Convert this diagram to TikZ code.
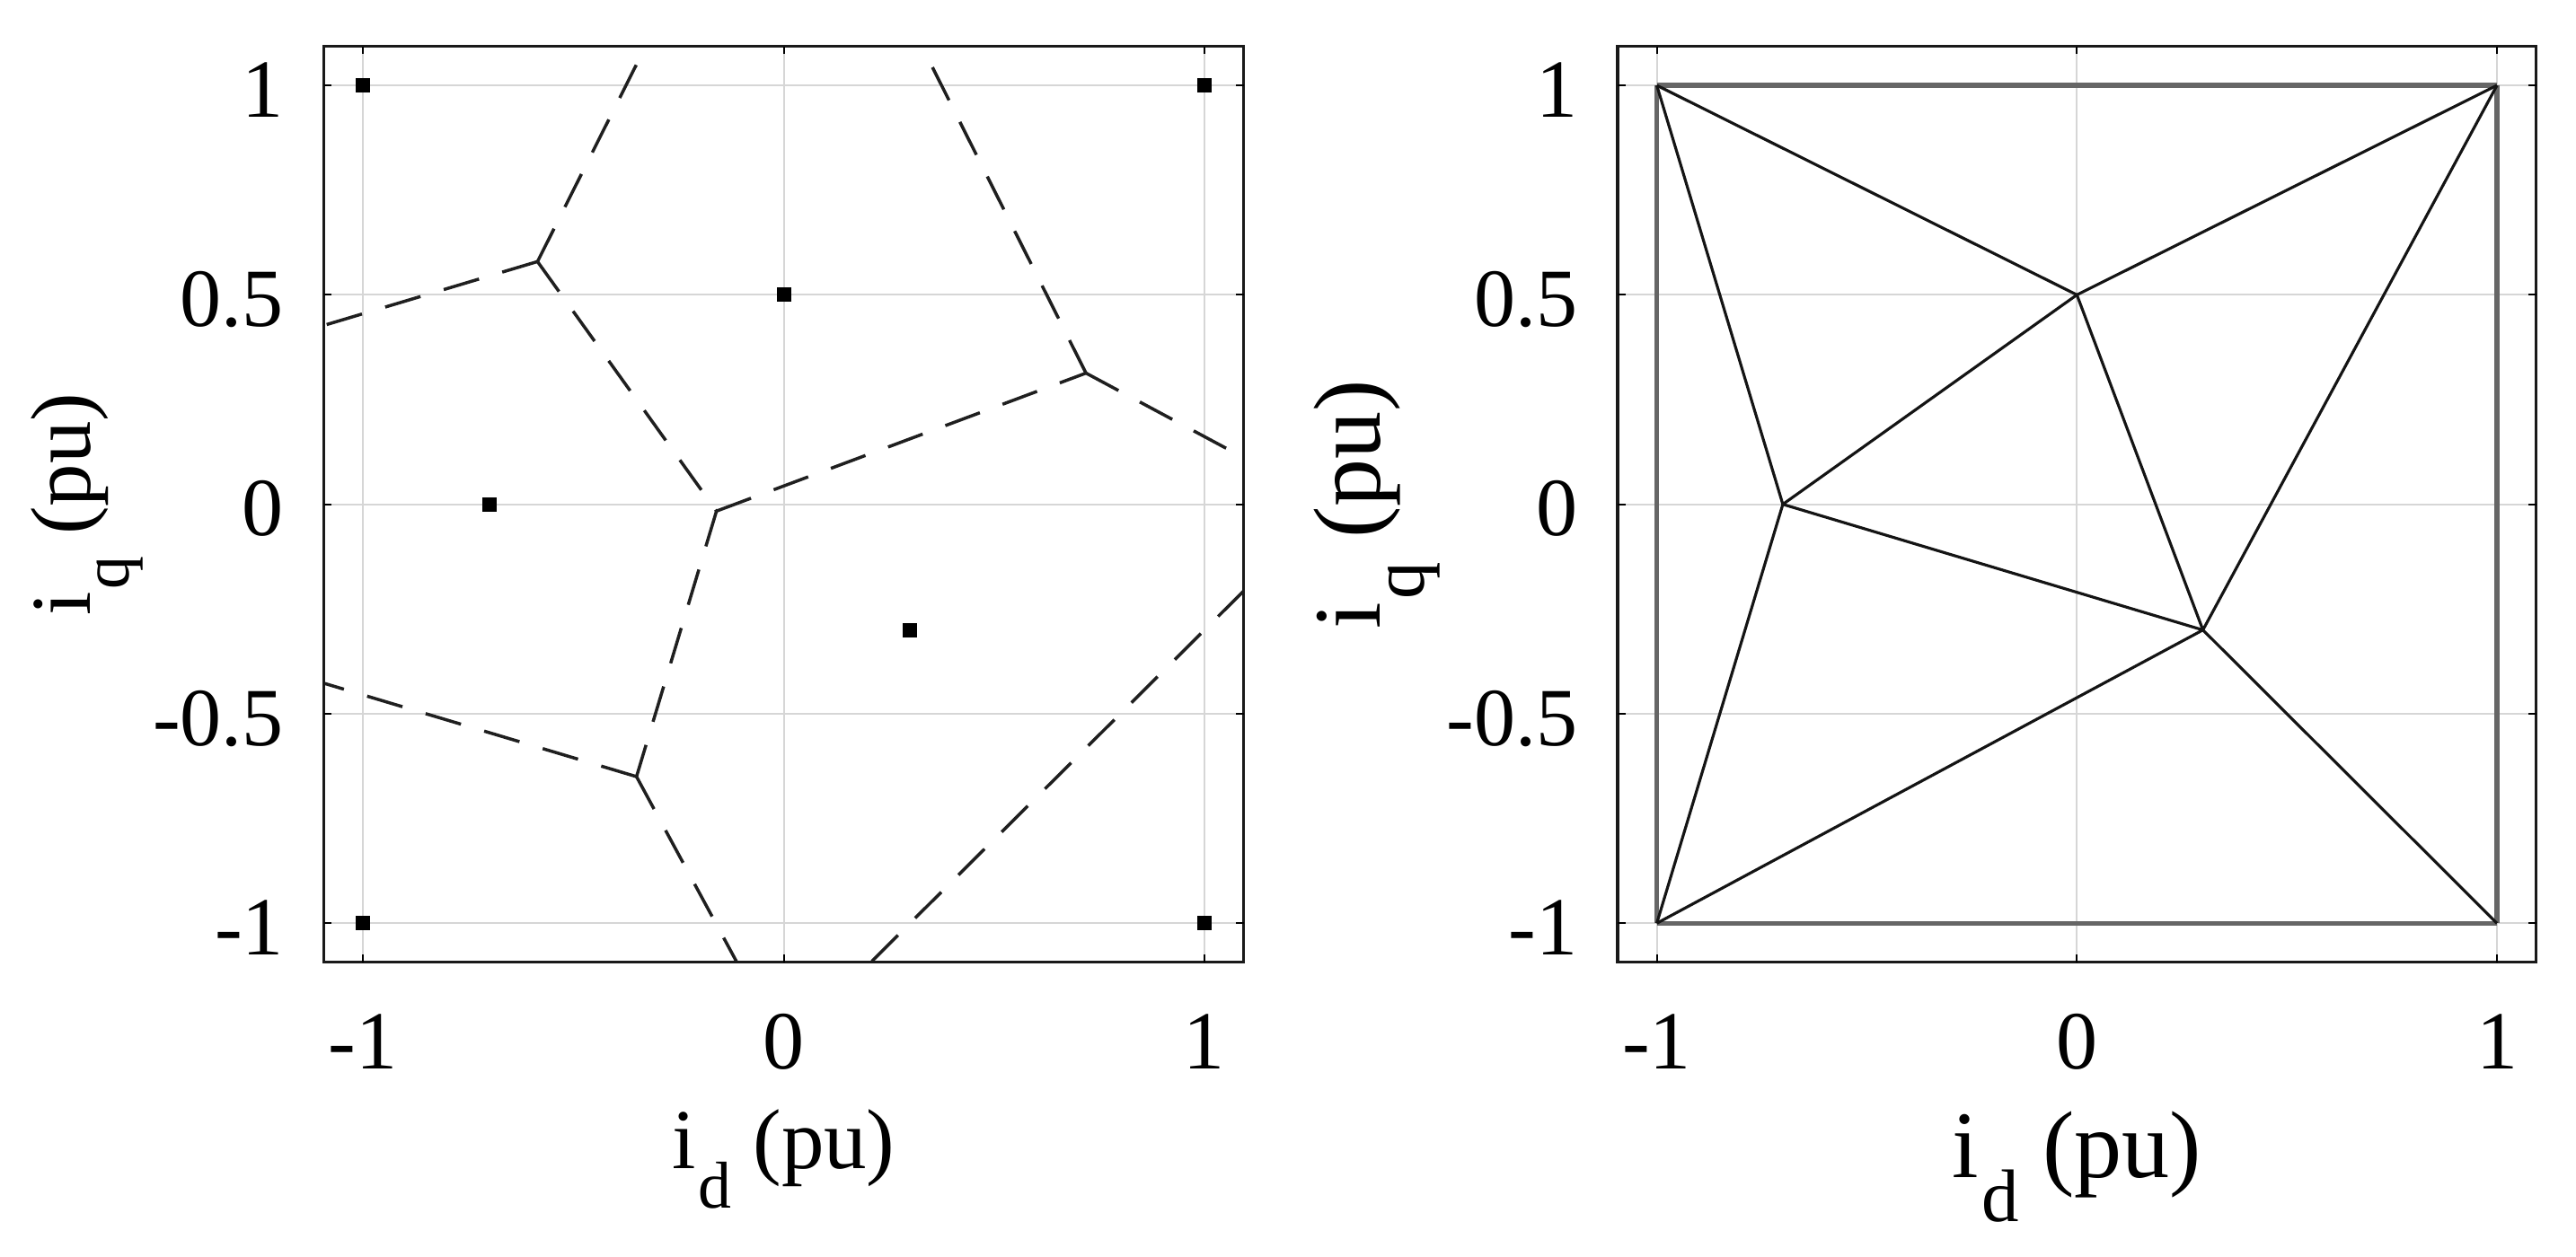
\documentclass[tikz,border=0pt]{standalone}
\usepackage{fontspec}
\setmainfont{Liberation Serif}
\newcommand{\axislabel}[3]{{\fontsize{#1}{#1}\selectfont i\kern0.03em\raisebox{-0.46em}{\fontsize{#2}{#2}\selectfont #3}\ (pu)}}
\begin{document}
\begin{tikzpicture}[
  gridline/.style={draw=black!16, line width=0.55pt},
  framebox/.style={draw=black!90, line width=1.0pt},
  tickmark/.style={draw=black, line width=0.6pt},
  vedge/.style={draw=black!88, line width=1.0pt, dash pattern=on 0.41cm off 0.27cm},
  dedge/.style={draw=black!92, line width=0.9pt},
  hulledge/.style={draw=black!60, line width=1.5pt},
  site/.style={rectangle, fill=black, draw=none, minimum size=0.16cm, inner sep=0pt},
  ticklab/.style={inner sep=0pt, font=\fontsize{26.2}{30}\selectfont},
  axlab/.style={inner sep=0pt, anchor=base},
]
\useasboundingbox (0,0) rectangle (28.68,14);
\def\fr{1.093}

% ================= LEFT PLOT (Voronoi) =================
\begin{scope}[shift={(8.726cm,8.383cm)}, x=4.684cm, y=4.666cm]
  \foreach \gx in {-1,0,1} \draw[gridline] (\gx,-\fr) -- (\gx,\fr);
  \foreach \gy in {-1,-0.5,0,0.5,1} \draw[gridline] (-\fr,\gy) -- (\fr,\gy);
  % sites
  \coordinate (L-A) at (-1,1);
  \coordinate (L-B) at (1,1);
  \coordinate (L-C) at (0,0.5);
  \coordinate (L-D) at (-0.7,0);
  \coordinate (L-E) at (0.3,-0.3);
  \coordinate (L-F) at (-1,-1);
  \coordinate (L-G) at (1,-1);
  % Voronoi vertices
  \coordinate (L-v1) at (-0.5853,0.5794);
  \coordinate (L-v2) at (0,1.75);
  \coordinate (L-v3) at (0.7184,0.3132);
  \coordinate (L-v4) at (-0.1599,-0.0162);
  \coordinate (L-v5) at (-2.5167,0);
  \coordinate (L-v6) at (-0.35,-0.65);
  \coordinate (L-v7) at (1.3,0);
  \coordinate (L-v8) at (0,-1.3);
  \begin{scope}
    \clip (-\fr,-\fr) rectangle (\fr,\fr);
    \draw[vedge] (L-v1) -- (L-v2);
    \draw[vedge] (L-v1) -- (L-v5);
    \draw[vedge] (L-v1) -- (L-v4);
    \draw[vedge] (L-v4) -- (L-v3);
    \draw[vedge] (L-v3) -- (L-v2);
    \draw[vedge] (L-v3) -- (L-v7);
    \draw[vedge] (L-v4) -- (L-v6);
    \draw[vedge] (L-v6) -- (L-v5);
    \draw[vedge] (L-v6) -- (L-v8);
    \draw[vedge] (L-v7) -- (L-v8);
  \end{scope}
  \foreach \p in {A,B,C,D,E,F,G} \node[site] (Ls\p) at (L-\p) {};
  \draw[framebox] (-\fr,-\fr) rectangle (\fr,\fr);
  \foreach \gx in {-1,0,1} {
    \draw[tickmark] (\gx,-\fr) -- ++(0,0.018);
    \draw[tickmark] (\gx,\fr) -- ++(0,-0.018);
  }
  \foreach \gy in {-1,-0.5,0,0.5,1} {
    \draw[tickmark] (-\fr,\gy) -- ++(0.018,0);
    \draw[tickmark] (\fr,\gy) -- ++(-0.018,0);
  }
  \foreach \gx/\t [count=\k] in {-1/-1,0/0,1/1}
    \node[ticklab, anchor=base] (Lxt\k) at (\gx,-1.3466) {\t};
  \foreach \gy/\t [count=\k] in {-1/-1,-0.5/-0.5,0/0,0.5/0.5,1/1}
    \node[ticklab, anchor=east] (Lyt\k) at (-1.187,\gy-0.011) {\t};
\end{scope}

% ================= RIGHT PLOT (Delaunay) =================
\begin{scope}[shift={(23.123cm,8.383cm)}, x=4.677cm, y=4.666cm]
  \foreach \gx in {-1,0,1} \draw[gridline] (\gx,-\fr) -- (\gx,\fr);
  \foreach \gy in {-1,-0.5,0,0.5,1} \draw[gridline] (-\fr,\gy) -- (\fr,\gy);
  \coordinate (R-A) at (-1,1);
  \coordinate (R-B) at (1,1);
  \coordinate (R-C) at (0,0.5);
  \coordinate (R-D) at (-0.7,0);
  \coordinate (R-E) at (0.3,-0.3);
  \coordinate (R-F) at (-1,-1);
  \coordinate (R-G) at (1,-1);
  % hull
  \draw[hulledge] (R-A) -- (R-B);
  \draw[hulledge] (R-B) -- (R-G);
  \draw[hulledge] (R-G) -- (R-F);
  \draw[hulledge] (R-F) -- (R-A);
  % interior edges
  \draw[dedge] (R-A) -- (R-C);
  \draw[dedge] (R-A) -- (R-D);
  \draw[dedge] (R-B) -- (R-C);
  \draw[dedge] (R-B) -- (R-E);
  \draw[dedge] (R-C) -- (R-D);
  \draw[dedge] (R-C) -- (R-E);
  \draw[dedge] (R-D) -- (R-E);
  \draw[dedge] (R-D) -- (R-F);
  \draw[dedge] (R-E) -- (R-F);
  \draw[dedge] (R-E) -- (R-G);
  \draw[framebox] (-\fr,-\fr) rectangle (\fr,\fr);
  \foreach \gx in {-1,0,1} {
    \draw[tickmark] (\gx,-\fr) -- ++(0,0.018);
    \draw[tickmark] (\gx,\fr) -- ++(0,-0.018);
  }
  \foreach \gy in {-1,-0.5,0,0.5,1} {
    \draw[tickmark] (-\fr,\gy) -- ++(0.018,0);
    \draw[tickmark] (\fr,\gy) -- ++(-0.018,0);
  }
  \foreach \gx/\t [count=\k] in {-1/-1,0/0,1/1}
    \node[ticklab, anchor=base] (Rxt\k) at (\gx,-1.3466) {\t};
  \foreach \gy/\t [count=\k] in {-1/-1,-0.5/-0.5,0/0,0.5/0.5,1/1}
    \node[ticklab, anchor=east] (Ryt\k) at (-1.187,\gy-0.011) {\t};
\end{scope}

% ================= AXIS LABELS =================
\node[axlab] (Lxlab) at (8.726,0.983) {\axislabel{27}{21}{d}};
\node[axlab, rotate=90] (Lylab) at (1.00,8.383) {\axislabel{27}{21}{q}};
\node[axlab] (Rxlab) at (23.123,0.883) {\axislabel{30.2}{23.6}{d}};
\node[axlab, rotate=90] (Rylab) at (15.367,8.383) {\axislabel{30.2}{23.6}{q}};
\end{tikzpicture}
\end{document}
